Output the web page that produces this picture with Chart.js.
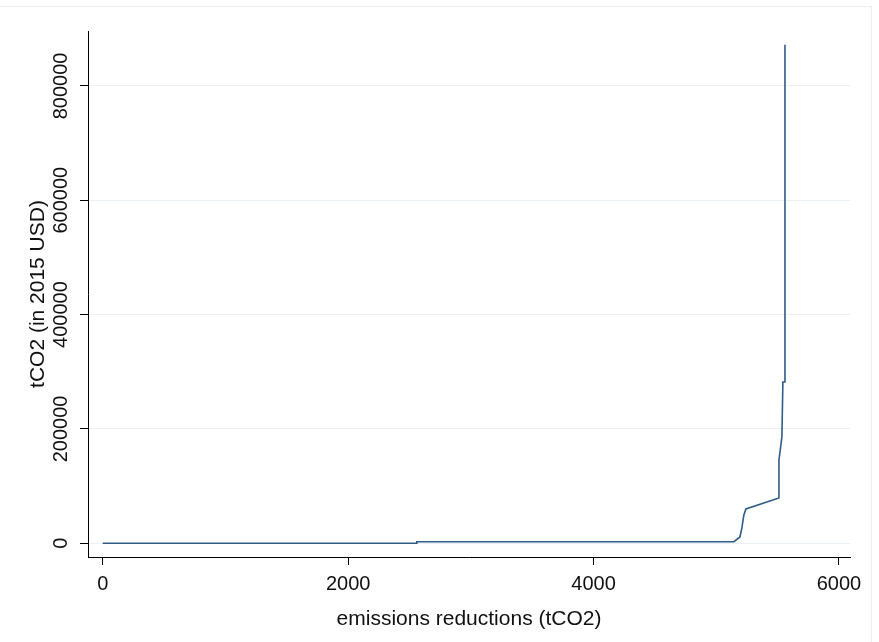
<!DOCTYPE html>
<html>
<head>
<meta charset="utf-8">
<title>Emissions reductions</title>
<script src="https://cdn.jsdelivr.net/npm/chart.js@4/dist/chart.umd.min.js"></script>
<style>
  html, body { margin: 0; padding: 0; background: #fff; }
  .wrap { position: relative; width: 879px; height: 642px; }
  .frame {
    position: absolute; left: 0; top: 6px; width: 871px; height: 640px;
    border-top: 1px solid #e8eef1; border-right: 1px solid #e8eef1;
    pointer-events: none;
  }
</style>
</head>
<body>
<div class="wrap">
  <canvas id="chart" width="879" height="642"></canvas>
  <div class="frame"></div>
</div>
<script>
// Datos (curva acumulada)
const reductions = [0, 2560, 2560, 5144, 5193, 5209, 5225, 5242, 5511, 5511, 5527, 5535, 5543, 5560, 5560];
const costs = [0, 0, 2800, 2800, 11000, 26800, 49500, 60000, 79300, 146000, 172000, 186000, 282000, 282000, 872000];

const xTicks = [0, 2000, 4000, 6000];
const yTicks = [0, 200000, 400000, 600000, 800000];

const xTitle = 'emissions reductions (tCO2)';
const yTitle = 'tCO2 (in 2015 USD)';

const fontFamily = '"Liberation Sans", Arial, sans-serif';
const lineColor = '#2f5c88';

const points = reductions.map((x, i) => ({ x: x, y: costs[i] }));

// Etiquetas del eje Y giradas 90 grados (como en Stata)
const rotatedYLabels = {
  id: 'rotatedYLabels',
  afterDraw(chart) {
    const scale = chart.scales.y;
    const ctx = chart.ctx;
    ctx.save();
    ctx.font = '20px ' + fontFamily;
    ctx.fillStyle = '#111';
    ctx.textAlign = 'center';
    ctx.textBaseline = 'middle';
    scale.ticks.forEach(t => {
      const py = scale.getPixelForValue(t.value);
      ctx.save();
      ctx.translate(scale.right - 27, py);
      ctx.rotate(-Math.PI / 2);
      ctx.fillText(String(t.value), 0, 0);
      ctx.restore();
    });
    ctx.restore();
  }
};

const ctx = document.getElementById('chart').getContext('2d');
new Chart(ctx, {
  type: 'scatter',
  data: {
    datasets: [
      {
        label: 'cost curve',
        data: points,
        showLine: true,
        borderColor: lineColor,
        backgroundColor: lineColor,
        borderWidth: 1.6,
        pointRadius: 0,
        tension: 0
      }
    ]
  },
  options: {
    responsive: false,
    animation: false,
    layout: { padding: { top: 31, right: 29, left: 0, bottom: 0 } },
    plugins: {
      legend: { display: false },
      tooltip: { enabled: false }
    },
    scales: {
      x: {
        type: 'linear',
        min: -120,
        max: 6090,
        afterBuildTicks: s => { s.ticks = xTicks.map(v => ({ value: v })); },
        afterFit: s => { s.height = 85; },
        border: { display: true, color: '#000', width: 1 },
        grid: { drawOnChartArea: false, drawTicks: true, tickLength: 8, tickColor: '#000' },
        ticks: {
          color: '#111',
          padding: 7,
          maxRotation: 0,
          font: { family: fontFamily, size: 20 },
          callback: value => String(value)
        },
        title: {
          display: true,
          text: xTitle,
          color: '#111',
          padding: { top: 0, bottom: 10 },
          font: { family: fontFamily, size: 21 }
        }
      },
      y: {
        type: 'linear',
        min: -24000,
        max: 896000,
        afterBuildTicks: s => { s.ticks = yTicks.map(v => ({ value: v })); },
        afterFit: s => { s.width = 88; },
        border: { display: true, color: '#000', width: 1 },
        grid: { color: '#e9eff2', lineWidth: 1, drawTicks: true, tickLength: 8, tickColor: '#000' },
        ticks: { display: false },
        title: {
          display: true,
          text: yTitle,
          color: '#111',
          padding: { top: 26, bottom: 0 },
          font: { family: fontFamily, size: 21 }
        }
      }
    }
  },
  plugins: [rotatedYLabels]
});
</script>
</body>
</html>
